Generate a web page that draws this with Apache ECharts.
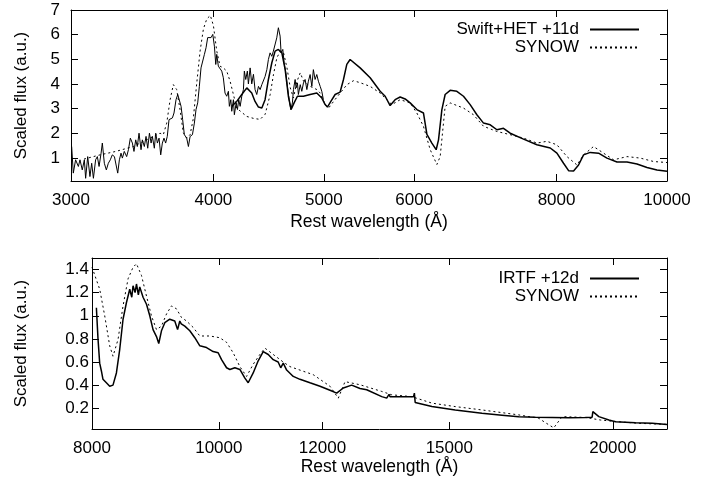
<!DOCTYPE html>
<html>
<head>
<meta charset="utf-8">
<script src="https://cdn.jsdelivr.net/npm/echarts@6/dist/echarts.min.js"></script>
<style>
  html, body { margin: 0; background: #fff; }
  #chart { width: 710px; height: 482px; }
</style>
</head>
<body>
<div id="chart"></div>
<script>
// ---- top panel: Swift UV (noisy) + HET optical, SYNOW fit ----
const swiftWave = [3004,3014,3028,3045,3055,3069,3082,3090,3103,3117,3128,3139,3153,3164,3175,3188,3196,3209,3222,3235,3248,3261,3275,3286,3297,3308,3319,3328,3341,3357,3369,3382,3396,3407,3419,3430,3442,3456,3465,3479,3491,3503,3515,3527,3536,3550,3560,3572,3584,3596,3608,3620,3632,3644,3657,3669,3682,3694,3709,3722,3734,3747,3759,3772,3790,3803,3816,3834,3849,3862,3875,3888,3901,3914,3928,3941,3954,3967,3981,3995,4008,4019,4027,4040,4054,4068,4081,4095,4109,4123,4131,4143,4151,4165,4173,4188,4199,4210,4222,4236,4250,4258,4270,4284,4293,4308,4322,4337,4351,4366,4381,4396,4411,4425,4440,4456,4470,4485,4501,4515,4531,4546,4561,4577,4586,4602,4614,4630,4645,4661,4677,4692,4702,4718,4727,4740,4749,4767,4782,4798,4814,4831,4846,4863,4880,4895,4912,4929,4945,4963,4979,4995];
const swiftFlux = [1.46,0.38,0.92,0.65,0.92,0.51,0.92,0.17,1.05,0.24,0.78,0.17,0.92,1.05,0.65,1.19,1.60,0.78,0.51,0.78,0.92,1.12,1.05,1.12,0.38,0.92,1.19,0.99,1.26,1.05,1.33,1.80,1.60,1.26,1.73,1.46,2.00,1.33,1.73,1.46,1.87,1.39,2.00,1.60,1.87,1.39,2.00,1.60,1.80,1.12,1.60,1.80,1.60,1.87,2.55,2.48,2.62,2.82,3.36,3.57,3.65,3.09,2.55,1.94,1.80,1.46,1.87,1.94,2.41,2.96,3.23,3.90,4.65,4.72,5.20,5.47,5.88,5.81,5.88,6.01,5.53,4.79,5.20,4.72,4.65,4.52,4.25,3.63,3.50,3.70,3.09,3.36,2.89,3.36,2.75,3.23,2.96,3.36,3.09,3.50,3.77,4.52,4.18,4.52,4.00,4.65,4.00,4.39,3.77,3.57,3.90,3.77,3.97,4.04,4.30,4.58,4.99,5.26,5.12,5.33,5.26,5.87,6.28,5.94,5.26,5.40,4.86,4.45,3.90,3.36,2.96,3.23,3.77,4.18,3.84,4.04,3.57,3.97,3.70,4.04,4.18,3.77,4.11,4.38,3.90,4.58,4.18,4.38,4.11,3.90,3.70,3.36];

const hetWave = [4151,4193,4236,4279,4322,4351,4381,4411,4440,4470,4501,4531,4561,4593,4624,4654,4680,4708,4740,4798,4863,4929,4979,5013,5036,5071,5115,5167,5202,5237,5272,5380,5490,5602,5659,5716,5774,5833,5892,5952,6033,6114,6157,6219,6273,6303,6346,6388,6453,6541,6629,6719,6811,6903,6997,7092,7187,7285,7484,7689,7899,8006,8114,8197,8280,8364,8449,8564,8709,8858,9039,9224,9412,9604,9800,10000];
const hetFlux = [3.09,3.29,3.57,3.84,3.63,3.29,3.06,3.02,3.36,4.18,4.86,5.33,5.40,5.26,4.58,3.50,2.96,3.23,3.50,3.50,3.57,3.63,3.43,3.16,3.06,3.29,3.57,3.67,4.18,4.79,4.99,4.65,4.25,3.70,3.50,3.12,3.36,3.47,3.39,3.23,2.96,2.82,1.95,1.60,1.33,1.73,2.96,3.57,3.74,3.70,3.50,3.16,2.75,2.41,2.34,2.14,2.20,2.00,1.76,1.53,1.40,1.19,0.78,0.48,0.47,0.71,1.12,1.22,1.19,0.99,0.83,0.83,0.75,0.61,0.51,0.46];

const synowOptWave = [3080,3181,3284,3403,3519,3591,3615,3640,3665,3689,3714,3739,3764,3790,3816,3841,3867,3894,3920,3947,3975,4000,4027,4054,4081,4109,4137,4165,4193,4222,4279,4338,4396,4441,4486,4516,4547,4578,4609,4641,4672,4702,4735,4767,4799,4864,4930,4963,5014,5048,5099,5168,5238,5308,5380,5490,5602,5678,5736,5833,5952,6033,6114,6198,6282,6324,6388,6453,6629,6764,6903,7092,7285,7484,7689,7846,8006,8170,8337,8449,8621,8797,8977,9224,9475,9733,10000];
const synowOptFlux = [0.95,1.12,1.26,1.46,1.80,2.00,1.94,2.41,3.36,3.97,3.77,2.96,2.02,1.80,1.94,2.60,4.00,5.34,6.23,6.64,6.78,6.37,5.34,4.72,4.65,4.52,4.11,3.57,3.02,2.90,2.68,2.60,2.56,2.77,3.57,4.38,5.06,5.33,5.26,4.65,3.84,3.43,4.10,4.45,4.11,3.90,3.77,3.63,3.16,3.02,3.29,3.63,3.97,4.13,4.05,3.90,3.63,3.36,3.16,3.36,3.23,2.82,2.28,1.33,0.73,1.05,3.09,3.23,3.02,2.75,2.28,2.07,1.94,1.80,1.60,1.67,1.53,1.05,0.71,1.12,1.46,1.19,0.92,1.05,0.99,0.85,0.81];

// ---- bottom panel: IRTF near-IR, SYNOW fit ----
const irtfWave = [8062,8085,8109,8134,8156,8205,8253,8301,8351,8400,8449,8500,8549,8580,8599,8630,8651,8680,8701,8752,8805,8856,8907,8961,8997,9040,9093,9173,9254,9300,9336,9360,9419,9502,9586,9671,9786,9900,9988,10048,10137,10196,10286,10377,10469,10530,10623,10717,10812,10908,11004,11100,11150,11200,11267,11399,11534,11739,11948,12160,12304,12448,12633,12819,12971,13319,13436,13491,13515,14086,14106,14126,14548,15157,15887,16457,16948,17452,17973,18510,19059,19285,19309,19514,19861,20093,20813,21436,22000];
const irtfFlux = [1.07,0.80,0.59,0.52,0.45,0.42,0.39,0.40,0.505,0.71,0.97,1.115,1.23,1.16,1.26,1.20,1.275,1.18,1.25,1.16,1.10,1.00,0.88,0.82,0.76,0.87,0.94,0.97,0.955,0.88,0.955,0.93,0.91,0.87,0.81,0.74,0.725,0.69,0.68,0.62,0.55,0.535,0.55,0.535,0.46,0.42,0.505,0.61,0.69,0.665,0.62,0.60,0.55,0.59,0.53,0.475,0.45,0.42,0.39,0.355,0.33,0.375,0.40,0.37,0.36,0.30,0.287,0.32,0.30,0.30,0.33,0.25,0.214,0.185,0.156,0.14,0.127,0.122,0.12,0.118,0.12,0.122,0.17,0.127,0.098,0.083,0.075,0.069,0.06];

const synowIrWave = [8000,8109,8181,8253,8301,8375,8449,8524,8599,8651,8727,8805,8882,8961,9040,9120,9200,9282,9364,9447,9557,9671,9843,10017,10137,10255,10377,10500,10623,10749,10844,11004,11199,11332,11807,12160,12339,12486,12819,13319,13555,14041,14548,15157,15887,16948,17557,17762,18026,18292,19059,19562,20185,20940,22000];
const synowIrFlux = [1.42,1.23,1.00,0.74,0.65,0.795,1.085,1.32,1.42,1.45,1.35,1.17,1.00,0.88,0.91,1.015,1.085,1.06,0.985,0.955,0.90,0.825,0.825,0.81,0.77,0.68,0.56,0.475,0.58,0.665,0.72,0.665,0.60,0.56,0.49,0.39,0.287,0.43,0.403,0.345,0.316,0.30,0.244,0.214,0.185,0.142,0.113,0.075,0.03,0.127,0.12,0.098,0.083,0.069,0.06];

// ---- ticks ----
const topXTicks = [3000, 4000, 5000, 6000, 8000, 10000];
const bottomXTicks = [8000, 10000, 12000, 15000, 20000];
const topYTicks = [1, 2, 3, 4, 5, 6, 7];
const bottomYTicks = [0.2, 0.4, 0.6, 0.8, 1, 1.2, 1.4];

const FONT = 'Liberation Sans';
const lg = Math.log10;
const pts = (w, f) => w.map((x, i) => [lg(x), f[i]]);

// log-wavelength axis pair (bottom with labels, top mirror)
function xAxisPair(gridIndex, ticks, min, max, nameGap) {
  const tv = ticks.map(lg);
  const base = {
    type: 'value', gridIndex: gridIndex, min: lg(min), max: lg(max),
    splitLine: { show: false },
    axisLine: { show: true, lineStyle: { color: '#000', width: 1 } },
    axisTick: { show: true, inside: true, length: 7, customValues: tv, lineStyle: { color: '#000' } }
  };
  return [
    Object.assign({}, base, {
      position: 'bottom',
      name: 'Rest wavelength (Å)', nameLocation: 'middle', nameGap: nameGap,
      nameTextStyle: { fontFamily: FONT, fontSize: 17.5, color: '#000' },
      axisLabel: {
        customValues: tv, margin: 11, fontFamily: FONT, fontSize: 17, color: '#000',
        formatter: v => String(Math.round(Math.pow(10, v)))
      }
    }),
    Object.assign({}, base, { position: 'top', axisLabel: { show: false } })
  ];
}

function yAxisPair(gridIndex, ticks, min, max, nameGap, margin) {
  const base = {
    type: 'value', gridIndex: gridIndex, min: min, max: max,
    splitLine: { show: false },
    axisLine: { show: true, lineStyle: { color: '#000', width: 1 } },
    axisTick: { show: true, inside: true, length: 7, customValues: ticks, lineStyle: { color: '#000' } }
  };
  return [
    Object.assign({}, base, {
      position: 'left',
      name: 'Scaled flux (a.u.)', nameLocation: 'middle', nameGap: nameGap, nameRotate: 90,
      nameTextStyle: { fontFamily: FONT, fontSize: 17, color: '#000' },
      axisLabel: { customValues: ticks, margin: margin, fontFamily: FONT, fontSize: 17, color: '#000' }
    }),
    Object.assign({}, base, { position: 'right', axisLabel: { show: false } })
  ];
}

function line(name, data, xi, yi, width, dotted) {
  return {
    type: 'line', name: name, data: data, xAxisIndex: xi, yAxisIndex: yi,
    symbol: 'none', silent: true, clip: true,
    itemStyle: { color: '#000' },
    lineStyle: { color: '#000', width: width, type: dotted ? [2, 3] : 'solid' }
  };
}

function legend(top, names) {
  return {
    top: top, right: 65, orient: 'vertical', align: 'right',
    itemWidth: 49, itemHeight: 12, itemGap: 1,
    data: names, selectedMode: false,
    itemStyle: { opacity: 0 },
    textStyle: { fontFamily: FONT, fontSize: 17, color: '#000', lineHeight: 17, padding: [0, 6, 0, 0] }
  };
}

const chart = echarts.init(document.getElementById('chart'), null, { renderer: 'canvas' });
chart.setOption({
  animation: false,
  backgroundColor: '#fff',
  grid: [
    { left: 71, top: 10, right: 43, height: 171 },
    { left: 92, top: 258, right: 43, height: 171 }
  ],
  xAxis: [].concat(xAxisPair(0, topXTicks, 3000, 10000, 32), xAxisPair(1, bottomXTicks, 8000, 22000, 28)),
  yAxis: [].concat(yAxisPair(0, topYTicks, 0.06, 7, 41, 11), yAxisPair(1, bottomYTicks, 0.02, 1.5, 62, 3)),
  legend: [
    legend(16, ['Swift+HET +11d', 'SYNOW']),
    legend(265, ['IRTF +12d', 'SYNOW'])
  ],
  series: [
    line('Swift+HET +11d', pts(hetWave, hetFlux), 0, 0, 1.5, false),
    line('Swift+HET +11d', pts(swiftWave, swiftFlux), 0, 0, 1, false),
    line('SYNOW', pts(synowOptWave, synowOptFlux), 0, 0, 1, true),
    line('IRTF +12d', pts(irtfWave, irtfFlux), 2, 2, 1.5, false),
    line('SYNOW', pts(synowIrWave, synowIrFlux), 2, 2, 1, true)
  ]
});
</script>
</body>
</html>
